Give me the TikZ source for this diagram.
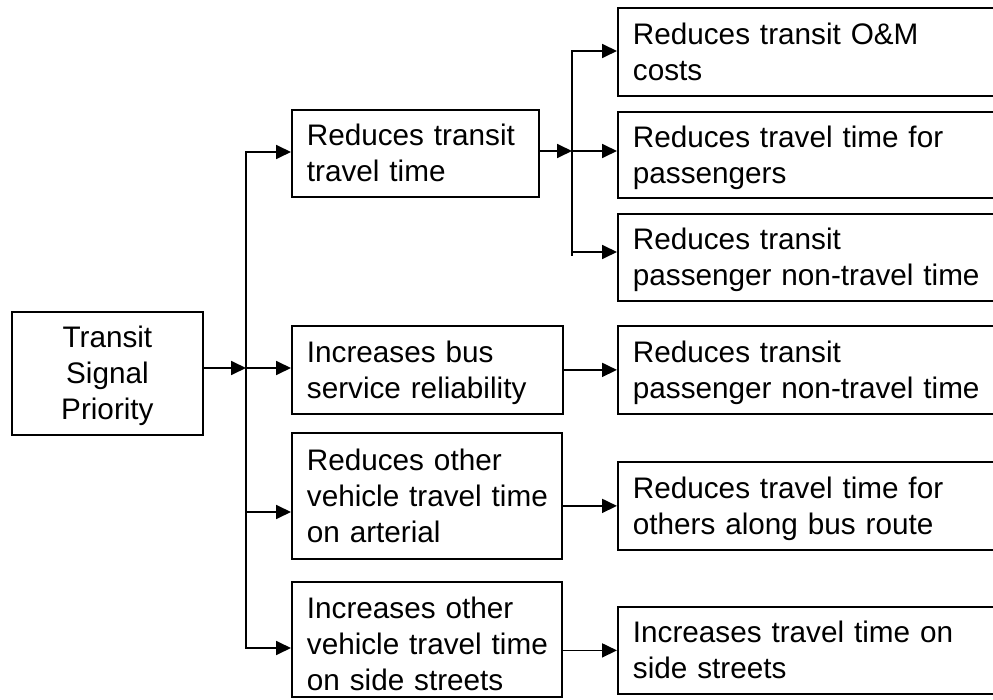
\documentclass[tikz,border=0pt]{standalone}
\usepackage{fontspec}
\setmainfont{Liberation Sans}
\usetikzlibrary{arrows.meta}

\begin{document}
\begin{tikzpicture}[x=1pt, y=-1pt,
  line width=1.8pt,
  box/.style={draw, anchor=north west, inner xsep=15pt, inner ysep=0pt,
    align=left, font=\fontsize{29.7pt}{36pt}\selectfont, text height=21pt},
  twolines/.style={text depth=36pt},
  threelines/.style={text depth=72pt},
  arr/.style={-{Triangle[length=15pt, width=14pt]}},
  trunk/.style={line cap=rect}]

  \useasboundingbox (0,0) rectangle (993,700);
  \clip (0,0) rectangle (993,700);

  % root
  \node[box, threelines, align=center, text width=161pt, minimum height=123pt]
    (tsp) at (11,311) {Transit\\Signal\\Priority};

  % first-level effects
  \node[box, twolines, text width=217pt, minimum height=87pt]
    (b1) at (291,109) {\mbox{Reduces transit}\\\mbox{travel time}};
  \node[box, twolines, text width=241pt, minimum height=88pt]
    (b2) at (291,325) {\mbox{Increases bus}\\\mbox{service reliability}};
  \node[box, threelines, text width=240pt, minimum height=126pt]
    (b3) at (291,432) {\mbox{Reduces other}\\\mbox{vehicle travel time}\\\mbox{on arterial}};
  \node[box, text depth=62pt, text width=240pt, minimum height=115pt]
    (b4) at (291,581) {\mbox{Increases other}\\\mbox{vehicle travel time}\\\mbox{on side streets}};

  % second-level effects (run off the right edge)
  \node[box, twolines, text width=420pt, minimum height=88pt]
    (r1) at (617,7) {Reduces transit O\&M\\costs};
  \node[box, twolines, text width=420pt, minimum height=86pt]
    (r2) at (617,111) {Reduces travel time for\\passengers};
  \node[box, twolines, text width=420pt, minimum height=87pt]
    (r3) at (617,213) {Reduces transit\\passenger non-travel time};
  \node[box, twolines, text width=420pt, minimum height=88pt]
    (r4) at (617,325) {Reduces transit\\passenger non-travel time};
  \node[box, twolines, text width=420pt, minimum height=88pt]
    (r5) at (617,461) {Reduces travel time for\\others along bus route};
  \node[box, twolines, text width=420pt, minimum height=87pt]
    (r6) at (617,606) {Increases travel time on\\side streets};

  % main trunk
  \coordinate (ja) at (246,152);
  \coordinate (jb) at (246,368);
  \coordinate (jc) at (246,512);
  \coordinate (jd) at (246,648);
  \draw[trunk] (ja) -- (jd);
  \draw[arr] (tsp.east |- jb) -- (jb);
  \draw[arr] (ja) -- (b1.west |- ja);
  \draw[arr] (jb) -- (b2.west |- jb);
  \draw[arr] (jc) -- (b3.west |- jc);
  \draw[arr] (jd) -- (b4.west |- jd);

  % branch from transit travel time
  \coordinate (ka) at (572,51);
  \coordinate (kb) at (572,151);
  \coordinate (kc) at (572,252);
  \coordinate (kd) at (572,255);
  \draw[trunk] (ka) -- (kd);
  \draw[arr] (b1.east |- kb) -- (kb);
  \draw[arr] (ka) -- (r1.west |- ka);
  \draw[arr] (kb) -- (r2.west |- kb);
  \draw[arr] (kc) -- (r3.west |- kc);

  % direct links
  \draw[arr] (b2.east |- r4.west) -- (r4.west);
  \draw[arr] (b3.east |- r5.west) -- (r5.west);
  \draw[arr] (b4.east |- r6.west) -- (r6.west);
\end{tikzpicture}
\end{document}
